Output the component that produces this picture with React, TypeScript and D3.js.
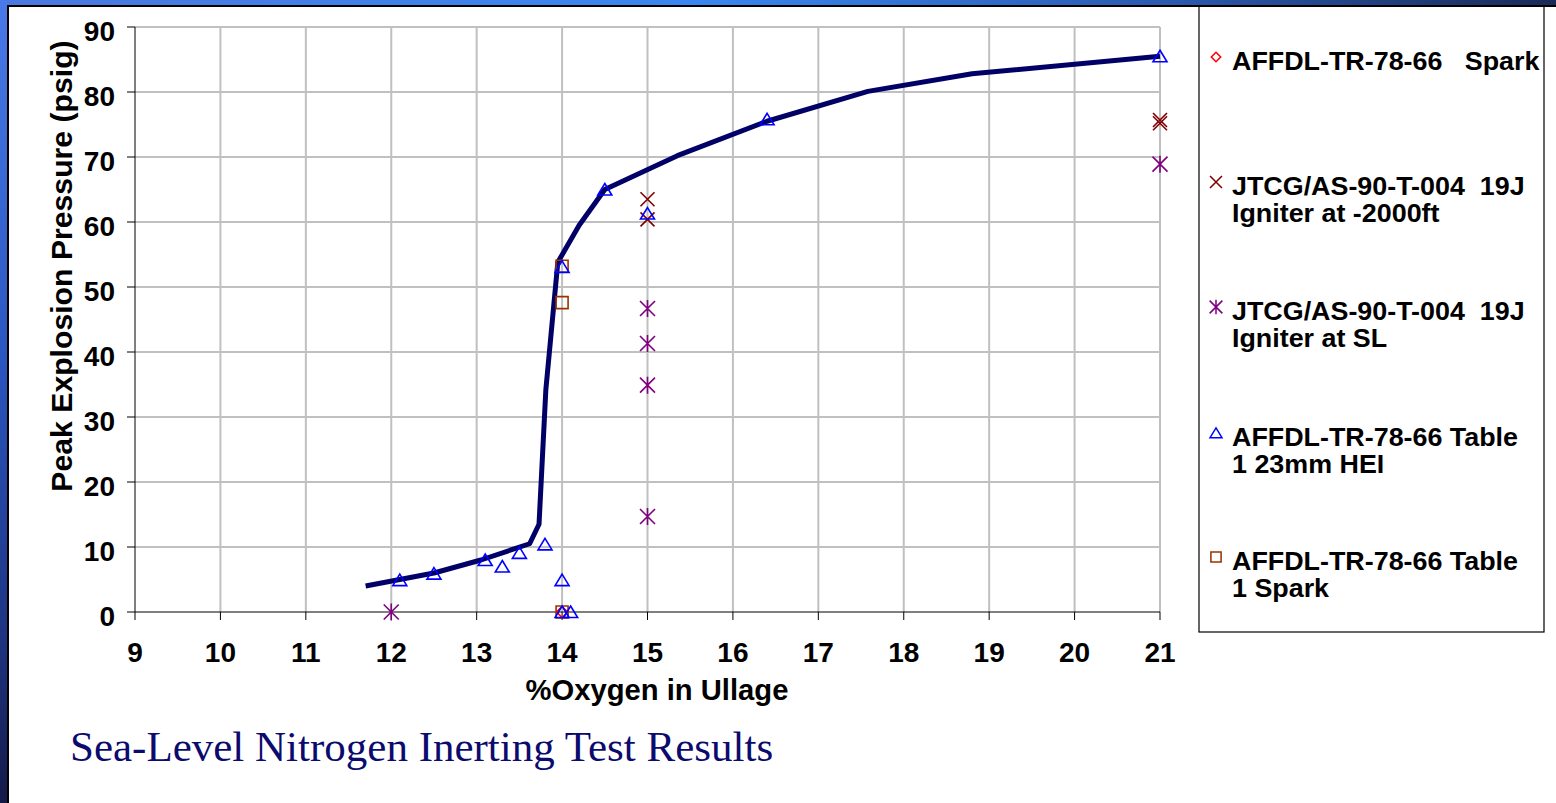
import React from 'react'
import * as d3 from 'd3'

// axis ticks
const oxygenTicks = [9, 10, 11, 12, 13, 14, 15, 16, 17, 18, 19, 20, 21]
const pressureTicks = [0, 10, 20, 30, 40, 50, 60, 70, 80, 90]

// fitted curve
const fitO2 = [11.7, 12.5, 13.05, 13.62, 13.73, 13.81, 13.95, 14.2, 14.5, 15.35, 16.4, 17.58, 18.8, 21]
const fitPsig = [4.0, 6.0, 8.0, 10.5, 13.5, 34.2, 53.8, 59.5, 65.0, 70.2, 75.5, 80.1, 82.8, 85.5]

// AFFDL-TR-78-66 Spark
const sparkO2 = [14]
const sparkPsig = [0]

// JTCG/AS-90-T-004 19J Igniter at -2000ft
const jtcgAltO2 = [15, 15, 21, 21]
const jtcgAltPsig = [63.5, 60.4, 75.7, 75.2]

// JTCG/AS-90-T-004 19J Igniter at SL
const jtcgSlO2 = [12, 15, 15, 15, 15, 21]
const jtcgSlPsig = [0, 46.7, 41.3, 34.9, 14.7, 68.9]

// AFFDL-TR-78-66 Table 1 23mm HEI
const heiO2 = [12.1, 12.5, 13.1, 13.3, 13.5, 13.8, 14, 14, 14.1, 14, 14.5, 15, 16.4, 21]
const heiPsig = [4.9, 5.9, 8.0, 7.0, 9.1, 10.4, 4.9, 0, 0, 53.1, 65.0, 61.3, 75.8, 85.5]

// AFFDL-TR-78-66 Table 1 Spark
const tableSparkO2 = [14, 14, 14]
const tableSparkPsig = [53.2, 47.6, 0]

const legendLabels = [
    ['AFFDL-TR-78-66   Spark'],
    ['JTCG/AS-90-T-004  19J', 'Igniter at -2000ft'],
    ['JTCG/AS-90-T-004  19J', 'Igniter at SL'],
    ['AFFDL-TR-78-66 Table', '1 23mm HEI'],
    ['AFFDL-TR-78-66 Table', '1 Spark'],
]

const W = 1556
const H = 803
const font = 'Liberation Sans, Arial, sans-serif'

type Shape = 'diamond' | 'x' | 'star' | 'triangle' | 'square'

const markerPath = (shape: Shape) => {
    switch (shape) {
        case 'diamond': return 'M0,-5.5L5.5,0L0,5.5L-5.5,0Z'
        case 'x': return 'M-7,-7L7,7M-7,7L7,-7'
        case 'star': return 'M-7.5,-7.5L7.5,7.5M-7.5,7.5L7.5,-7.5M0,-8.5L0,8.5'
        case 'triangle': return 'M0,-6L7,5.5L-7,5.5Z'
        case 'square': return 'M-6,-6L6,-6L6,6L-6,6Z'
    }
}

const seriesColors: Record<Shape, string> = {
    diamond: '#ff0000',
    x: '#800000',
    star: '#800080',
    triangle: '#0000ff',
    square: '#993300',
}

const App = () => {
    const x = d3.scaleLinear().domain([9, 21]).range([135, 1160])
    const y = d3.scaleLinear().domain([0, 90]).range([612, 27])

    const fitLine = d3.line<number>()
        .x((d, i) => x(fitO2[i]))
        .y(d => y(d))

    const series: { shape: Shape, xs: number[], ys: number[] }[] = [
        { shape: 'star', xs: jtcgSlO2, ys: jtcgSlPsig },
        { shape: 'x', xs: jtcgAltO2, ys: jtcgAltPsig },
        { shape: 'square', xs: tableSparkO2, ys: tableSparkPsig },
        { shape: 'diamond', xs: sparkO2, ys: sparkPsig },
        { shape: 'triangle', xs: heiO2, ys: heiPsig },
    ]

    const legendShapes: Shape[] = ['diamond', 'x', 'star', 'triangle', 'square']
    const legendY = [57, 182, 307, 433, 557]

    return (
        <div style={{ position: 'absolute', left: 0, top: 0 }}>
            <svg width={W} height={H} style={{ display: 'block', background: '#fff' }}>
                <defs>
                    <linearGradient id="topBar" x1="0" x2="1" y1="0" y2="0">
                        <stop offset="0" stopColor="#4a78e0" />
                        <stop offset="0.45" stopColor="#3a86f0" />
                        <stop offset="0.75" stopColor="#2a5ab0" />
                        <stop offset="1" stopColor="#1a2a58" />
                    </linearGradient>
                    <linearGradient id="leftBar" x1="0" x2="0" y1="0" y2="1">
                        <stop offset="0" stopColor="#4a7ae8" />
                        <stop offset="0.45" stopColor="#2a56c0" />
                        <stop offset="0.8" stopColor="#1e3480" />
                        <stop offset="1" stopColor="#141a48" />
                    </linearGradient>
                </defs>

                {/* slide frame */}
                <rect x={0} y={0} width={W} height={5} fill="url(#topBar)" />
                <rect x={0} y={0} width={7} height={H} fill="url(#leftBar)" />
                <line x1={7} x2={W} y1={6} y2={6} stroke="#000" strokeWidth={2} />
                <line x1={8} x2={8} y1={6} y2={H} stroke="#000" strokeWidth={2} />

                {/* grid */}
                {pressureTicks.filter(t => t > 0).map(t =>
                    <line key={`gy-${t}`} x1={x(9)} x2={x(21)} y1={y(t)} y2={y(t)} stroke="#c0c0c0" strokeWidth={2} />
                )}
                {oxygenTicks.filter(t => t > 9).map(t =>
                    <line key={`gx-${t}`} x1={x(t)} x2={x(t)} y1={y(0)} y2={y(90)} stroke="#c0c0c0" strokeWidth={2} />
                )}

                {/* axes */}
                <line x1={x(9)} x2={x(9)} y1={y(0)} y2={y(90)} stroke="#000" strokeWidth={1} />
                <line x1={x(9)} x2={x(21)} y1={y(0)} y2={y(0)} stroke="#000" strokeWidth={1} />
                {pressureTicks.map(t =>
                    <g key={`ty-${t}`}>
                        <line x1={x(9) - 8} x2={x(9)} y1={y(t)} y2={y(t)} stroke="#000" strokeWidth={1} />
                        <text x={115} y={y(t) + 14} textAnchor="end" fontFamily={font} fontWeight="bold" fontSize={28}>{t}</text>
                    </g>
                )}
                {oxygenTicks.map(t =>
                    <g key={`tx-${t}`}>
                        <line x1={x(t)} x2={x(t)} y1={y(0)} y2={y(0) + 8} stroke="#000" strokeWidth={1} />
                        <text x={x(t)} y={y(0) + 50} textAnchor="middle" fontFamily={font} fontWeight="bold" fontSize={28}>{t}</text>
                    </g>
                )}

                <text x={657} y={700} textAnchor="middle" fontFamily={font} fontWeight="bold" fontSize={29.2}>%Oxygen in Ullage</text>
                <text transform="translate(72,266) rotate(-90)" textAnchor="middle" fontFamily={font} fontWeight="bold" fontSize={30.2}>Peak Explosion Pressure (psig)</text>

                {/* fit curve */}
                <path d={fitLine(fitPsig) ?? ''} fill="none" stroke="#000066" strokeWidth={5} strokeLinejoin="round" />

                {/* data markers */}
                {series.map(s => s.xs.map((v, i) =>
                    <path key={`${s.shape}-${i}`} d={markerPath(s.shape)}
                          transform={`translate(${x(v)},${y(s.ys[i])})`}
                          fill="none" stroke={seriesColors[s.shape]} strokeWidth={1.6} />
                ))}

                {/* legend */}
                <rect x={1199} y={6} width={345} height={626} fill="none" stroke="#000" strokeWidth={1.2} />
                {legendShapes.map((shape, i) =>
                    <g key={`lg-${i}`}>
                        <path d={markerPath(shape)} transform={`translate(1216,${legendY[i]}) scale(0.85)`}
                              fill="none" stroke={seriesColors[shape]} strokeWidth={1.8} />
                        {legendLabels[i].map((line, j) =>
                            <g key={j} transform={`translate(1232,${legendY[i] + 13 + j * 27}) scale(1.075,1)`}>
                                <text x={0} y={0} fontFamily={font} fontWeight="bold" fontSize={25}
                                      style={{ whiteSpace: 'pre' }}>{line}</text>
                            </g>
                        )}
                    </g>
                )}

                {/* slide title */}
                <text x={70} y={761} fontFamily="Liberation Serif, Times New Roman, serif" fontSize={43} fill="#0b0b6e">Sea-Level Nitrogen Inerting Test Results</text>
            </svg>
        </div>
    )
}

export default App
